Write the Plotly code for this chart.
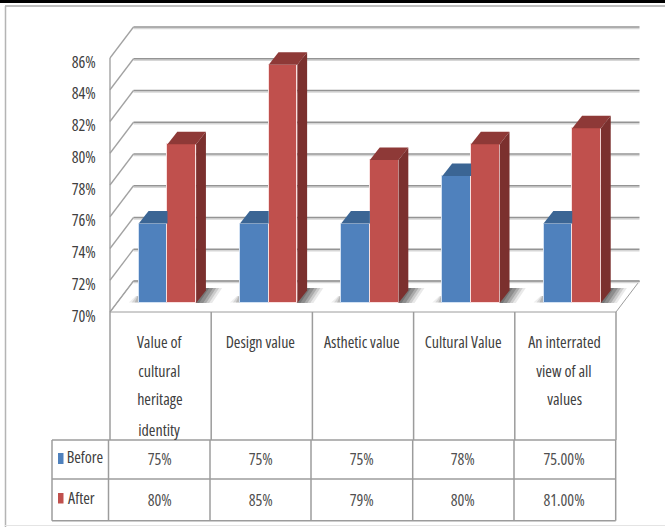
import plotly.graph_objects as go

# ---- data ----
category_lines = [
    ["Value of", "cultural", "heritage", "identity"],
    ["Design value"],
    ["Asthetic value"],
    ["Cultural Value"],
    ["An interrated", "view of all", "values"],
]
before = [75, 75, 75, 78, 75]
after = [80, 85, 79, 80, 81]
before_labels = ["75%", "75%", "75%", "78%", "75.00%"]
after_labels = ["80%", "85%", "79%", "80%", "81.00%"]
y_ticks = [70, 72, 74, 76, 78, 80, 82, 84, 86]
y_tick_labels = ["70%", "72%", "74%", "76%", "78%", "80%", "82%", "84%", "86%"]

# ---- geometry ----
W, H = 665, 527
X0, CAT_W = 110.0, 101.2      # front-left corner px, category width px
Y0, PX_PER = 312.0, 15.875    # pixel of 70 %, px per percentage point
BASE = 70
BLUE, RED = "#4F81BD", "#C0504D"
FONT = "Open Sans, Liberation Sans, sans-serif"
TXT = "#404040"
LINE = "#9c9c9c"


def ux(px):  # horizontal pixels -> x units
    return px / CAT_W


def uy(px):  # vertical pixels -> value units
    return px / PX_PER


def pp(px, py):
    return px / W, 1 - py / H


BAR_DX, BAR_DY = ux(0), uy(9)     # front of bars relative to chart's front edge
TOP_DX, TOP_DY = ux(9.8), uy(12.5)  # bar depth
BACK_DX, BACK_DY = ux(23.5), uy(31)  # wall depth
BAR_W = 0.283
BLUE_OFF, RED_OFF = 0.284, 0.568  # left edges within a category
N = len(before)

shapes = []


def line(x0, y0, x1, y1, color=LINE, width=1.5, ref="paper"):
    s = dict(type="line", x0=x0, y0=y0, x1=x1, y1=y1, layer="below",
             line=dict(color=color, width=width))
    s["xref"] = "paper" if ref == "paper" else "x"
    s["yref"] = "paper" if ref == "paper" else "y"
    shapes.append(s)


def poly(pts, color, opacity=1.0, border=None):
    path = "M " + " L ".join(f"{a:.4f},{b:.4f}" for a, b in pts) + " Z"
    shapes.append(dict(type="path", path=path, xref="x", yref="y", layer="below",
                       fillcolor=color, opacity=opacity,
                       line=dict(width=1 if border else 0, color=border or "rgba(0,0,0,0)")))


# page frame
for a, b, c, d, col, wd in [
    (0, 1.2, W, 1.2, "#000000", 3.5),
    (5, 6, W, 6, "#a8a8a8", 1.5),
    (5.5, 6, 5.5, H, "#b4b4b4", 1.5),
    (5, 525.5, W, 525.5, "#e4e4e4", 1),
]:
    (x0, y0), (x1, y1) = pp(a, b), pp(c, d)
    line(x0, y0, x1, y1, col, wd)

# floor
right = float(N)
poly([(0, BASE), (right, BASE), (right + BACK_DX, BASE + BACK_DY), (BACK_DX, BASE + BACK_DY)],
     "#ffffff", border=LINE)

# walls and grid
for t in y_ticks:
    line(BACK_DX, t + BACK_DY - uy(1.6), right + BACK_DX, t + BACK_DY - uy(1.6), "#d6d6d6", 1.5, "data")
    line(0, t, BACK_DX, t + BACK_DY, "#a2a2a2", 1.3, "data")
    line(BACK_DX, t + BACK_DY, right + BACK_DX, t + BACK_DY, "#949494", 1.3, "data")
line(0, BASE, 0, y_ticks[-1], LINE, 1.3, "data")

# bar shadows on the floor
for i in range(N):
    r = i + RED_OFF + BAR_W
    l = i + BLUE_OFF
    b = BASE + BAR_DY
    for w, op in [(26, 0.12), (23, 0.18), (20, 0.25), (17, 0.3), (13, 0.35), (9, 0.4)]:
        poly([(r, b), (r + ux(w - 10), b), (r + ux(w), b + uy(15)), (r + ux(9), b + uy(15))],
             "#484848", op)
    for w, op in [(10, 0.12), (7, 0.2), (4, 0.3)]:
        poly([(l - ux(w), b + uy(0.5)), (l, b + uy(0.5)), (l, b + uy(7)), (l - ux(w * 0.3), b + uy(7))],
             "#707070", op)

# table grid
col_x_tbl = [52, 108.5, 210, 311, 412.7, 514, 615.7]
rows_y = [440, 479, 520.7]
for y in rows_y:
    (x0, y0), (x1, y1) = pp(col_x_tbl[0], y), pp(col_x_tbl[-1], y)
    line(x0, y0, x1, y1)
for x in col_x_tbl:
    (x0, y0), (x1, y1) = pp(x, 440), pp(x, 520.7)
    line(x0, y0, x1, y1)
for i in range(N + 1):
    x = X0 + i * CAT_W
    (x0, y0), (x1, y1) = pp(x, 312), pp(x, 440)
    line(x0, y0, x1, y1)

# legend keys in the table
for col, top, bot in [(BLUE, 453, 464), (RED, 493, 503.5)]:
    (x0, y0), (x1, y1) = pp(58, top), pp(63.5, bot)
    shapes.append(dict(type="rect", xref="paper", yref="paper", x0=x0, y0=y0, x1=x1, y1=y1,
                       fillcolor=col, line=dict(width=0), layer="above"))

fig = go.Figure()
edge = {"Before": "rgba(215,228,245,0.9)", "After": "rgba(250,225,225,0.95)"}
for name, vals, off, col in [("Before", before, BLUE_OFF, BLUE), ("After", after, RED_OFF, RED)]:
    fig.add_trace(go.Bar(
        name=name,
        x=[i + off + BAR_W / 2 for i in range(N)],
        y=[v - BASE for v in vals],
        base=[BASE + BAR_DY] * N,
        width=BAR_W,
        marker=dict(color=col, line=dict(color=edge[name], width=1)),
        showlegend=False,
        hoverinfo="skip",
    ))


def fill(pts, color):
    fig.add_trace(go.Scatter(x=[p[0] for p in pts], y=[p[1] for p in pts], mode="lines",
                             fill="toself", fillcolor=color, line=dict(width=0),
                             showlegend=False, hoverinfo="skip"))


for i in range(N):
    # Before: top face, cut where the After bar hides it
    l = i + BLUE_OFF
    r = i + RED_OFF
    t = before[i] + BAR_DY
    fill([(l, t), (r, t), (r, t + TOP_DY), (l + TOP_DX, t + TOP_DY)], "#3B6594")
    # After: top and side faces
    l = i + RED_OFF
    r = l + BAR_W
    t = after[i] + BAR_DY
    b = BASE + BAR_DY
    fill([(l, t), (r, t), (r + TOP_DX, t + TOP_DY), (l + TOP_DX, t + TOP_DY)], "#8E3937")
    fill([(r, t), (r + TOP_DX, t + TOP_DY), (r + TOP_DX, b + TOP_DY), (r, b)], "#7B302E")

annotations = []


def label(x, py, text, size=16, color=TXT, xref="x"):
    annotations.append(dict(x=x, y=1 - py / H, xref=xref, yref="paper", text=text, showarrow=False,
                            xanchor="center", yanchor="middle",
                            font=dict(family=FONT, size=size, color=color)))


line_y = [341.5, 370.5, 399, 430]
for i, lines in enumerate(category_lines):
    for j, s in enumerate(lines):
        label(i + 0.49, line_y[j], s)
    label(i + 0.49, 459, before_labels[i], color="#505050")
    label(i + 0.49, 500, after_labels[i], color="#505050")
label(85.5 / W, 457, "Before", xref="paper")
label(81 / W, 498, "After", xref="paper")

fig.update_layout(
    width=W, height=H,
    margin=dict(l=0, r=0, t=0, b=0),
    paper_bgcolor="#ffffff", plot_bgcolor="#ffffff",
    barmode="overlay", bargap=0,
    shapes=shapes, annotations=annotations,
    xaxis=dict(range=[-X0 / CAT_W, (W - X0) / CAT_W], domain=[0, 1], visible=False, fixedrange=True),
    yaxis=dict(
        range=[BASE - (H - Y0) / PX_PER, BASE + Y0 / PX_PER], domain=[0, 1],
        anchor="free", position=X0 / W, side="left",
        tickmode="array", tickvals=y_ticks, ticktext=y_tick_labels,
        showgrid=False, zeroline=False, showline=False,
        ticks="outside", ticklen=11, tickcolor="rgba(0,0,0,0)", ticklabelshift=4,
        tickfont=dict(family=FONT, size=16, color=TXT), fixedrange=True,
    ),
)
POST = ("document.body.style.margin='0';document.body.style.overflow='hidden';"
        "var st=document.createElement('style');st.textContent='svg text{font-stretch:75%}';"
        "document.head.appendChild(st);")
fig.write_html("out.html", config={"displayModeBar": False}, post_script=POST)
